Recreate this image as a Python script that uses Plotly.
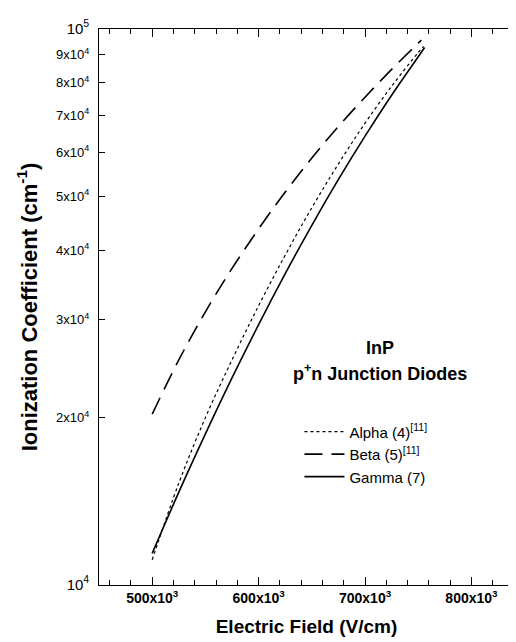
import plotly.graph_objects as go

# Electric field (V/cm)
x_alpha = [500e3, 525e3, 550e3, 575e3, 600e3, 625e3, 650e3, 675e3, 700e3, 725e3, 750e3, 755e3]
alpha = [11100, 15250, 20000, 25400, 31800, 39200, 47700, 57200, 67700, 78900, 90700, 93000]

x_beta = [500e3, 525e3, 550e3, 575e3, 600e3, 625e3, 650e3, 675e3, 700e3, 725e3, 750e3, 753e3]
beta = [20300, 25400, 31000, 37100, 43700, 50900, 58600, 66800, 75400, 84600, 94300, 95500]

x_gamma = [500e3, 525e3, 550e3, 575e3, 600e3, 625e3, 650e3, 675e3, 700e3, 725e3, 750e3, 756e3]
gamma = [11400, 14690, 18700, 23570, 29400, 36300, 44360, 53630, 64160, 76020, 89130, 92600]

x_tickvals = [500e3, 600e3, 700e3, 800e3]
x_ticktext = ["500x10<sup>3</sup>", "600x10<sup>3</sup>", "700x10<sup>3</sup>", "800x10<sup>3</sup>"]

y_tickvals = [1e4, 2e4, 3e4, 4e4, 5e4, 6e4, 7e4, 8e4, 9e4, 1e5]
y_ticktext = ['<span style="font-size:15px">10<sup>4</sup></span>', "2x10<sup>4</sup>", "3x10<sup>4</sup>",
              "4x10<sup>4</sup>", "5x10<sup>4</sup>", "6x10<sup>4</sup>", "7x10<sup>4</sup>",
              "8x10<sup>4</sup>", "9x10<sup>4</sup>", '<span style="font-size:15px">10<sup>5</sup></span>']

FONT = "Liberation Sans, Arial, sans-serif"

fig = go.Figure()
fig.add_trace(go.Scatter(x=x_alpha, y=alpha, mode="lines", name="Alpha (4)<sup>[11]</sup>",
                         line=dict(color="black", width=1.2, dash="dot", shape="spline")))
fig.add_trace(go.Scatter(x=x_beta, y=beta, mode="lines", name="Beta (5)<sup>[11]</sup>",
                         line=dict(color="black", width=1.6, dash="18px,9px", shape="spline")))
fig.add_trace(go.Scatter(x=x_gamma, y=gamma, mode="lines", name="Gamma (7)",
                         line=dict(color="black", width=1.6, shape="spline")))

fig.update_layout(
    width=516, height=642,
    margin=dict(l=91, r=9, t=15, b=65),
    paper_bgcolor="white", plot_bgcolor="white",
    font=dict(family=FONT, color="black"),
    showlegend=True,
    legend=dict(x=0.483, y=0.305, xanchor="left", yanchor="top",
                font=dict(family=FONT, size=15, color="black"),
                bgcolor="rgba(0,0,0,0)", tracegroupgap=0, itemwidth=40),
    xaxis=dict(range=[450e3, 840e3], tickvals=x_tickvals, ticktext=x_ticktext,
               ticks="inside", ticklen=8, tickwidth=1.2, tickcolor="black",
               showline=True, linecolor="black", linewidth=1.4, mirror="ticks",
               showgrid=False, zeroline=False,
               minor=dict(dtick=20e3, tick0=0, ticks="inside", ticklen=5, tickwidth=1.2,
                          tickcolor="black", showgrid=False),
               tickfont=dict(family=FONT, size=14, color="black", weight="bold"),
               title=dict(text="Electric Field (V/cm)", standoff=14,
                          font=dict(family=FONT, size=19, color="black", weight="bold"))),
    yaxis=dict(type="log", range=[4, 5], tickvals=y_tickvals, ticktext=y_ticktext,
               ticks="inside", ticklen=6, tickwidth=1.2, tickcolor="black",
               showline=True, linecolor="black", linewidth=1.4, mirror="ticks",
               showgrid=False, zeroline=False, ticklabelstandoff=6,
               tickfont=dict(family=FONT, size=13, color="black"),
               title=dict(text="Ionization Coefficient (cm<sup>-1</sup>)", standoff=12,
                          font=dict(family=FONT, size=22, color="black", weight="bold"))),
    annotations=[
        dict(text="<b>InP</b>", xref="paper", yref="paper", x=(373 - 91) / 416, y=(577 - 337) / 562,
             showarrow=False, font=dict(family=FONT, size=18, color="black"), xanchor="center", yanchor="middle"),
        dict(text="<b>p<sup>+</sup>n Junction Diodes</b>", xref="paper", yref="paper", x=(373 - 91) / 416,
             y=(577 - 362) / 562, showarrow=False, font=dict(family=FONT, size=18, color="black"),
             xanchor="center", yanchor="middle"),
    ],
)

fig.write_html("out.html")
